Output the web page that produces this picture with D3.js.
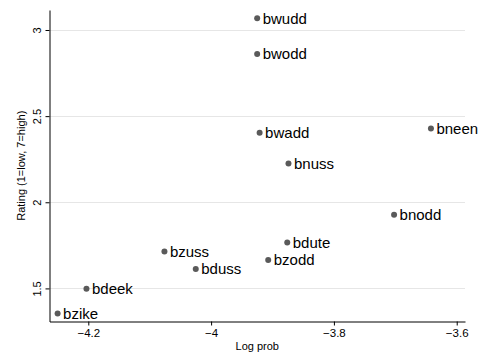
<!DOCTYPE html>
<html><head><meta charset="utf-8">
<script src="https://cdn.jsdelivr.net/npm/d3@7"></script>
<style>
body{margin:0;background:#fff;}
text{font-family:"Liberation Sans",Arial,Helvetica,sans-serif;}
</style></head>
<body><svg id="c" width="479" height="356"></svg>
<script>
const words = ["bwudd","bwodd","bwadd","bnuss","bneen","bnodd","bdute","bzodd","bzuss","bduss","bdeek","bzike"];
const logProb = [-3.925,-3.925,-3.921,-3.874,-3.642,-3.702,-3.876,-3.907,-4.076,-4.025,-4.203,-4.250];
const rating  = [3.068,2.860,2.403,2.225,2.428,1.928,1.767,1.665,1.715,1.612,1.498,1.355];
const xTicks = [-4.2,-4.0,-3.8,-3.6];
const yTicks = [1.5,2,2.5,3];

const svg = d3.select("#c");
const L=49.5, R=465, T=10, B=321.5;
const x = d3.scaleLinear().domain([-4.2632,-3.5865]).range([L,R]);
const y = d3.scaleLinear().domain([1.308,3.116]).range([B,T]);
const fmt = d => d<0 ? "\u2212"+Math.abs(d) : String(d);

// grid
svg.append("g").selectAll("line").data(yTicks).join("line")
  .attr("x1",L).attr("x2",R).attr("y1",d=>Math.round(y(d))+0.5).attr("y2",d=>Math.round(y(d))+0.5)
  .attr("stroke","#e6e6e6").attr("stroke-width",1);

// x axis
const xa = svg.append("g").attr("transform",`translate(0,${B})`)
  .call(d3.axisBottom(x).tickValues(xTicks).tickSize(4).tickSizeOuter(0).tickPadding(3).tickFormat(fmt));
xa.select(".domain").attr("stroke","#000");
xa.selectAll(".tick line").attr("stroke","#000");
xa.selectAll("text").attr("font-size",11.5).attr("fill","#000").attr("font-family","Liberation Sans, Arial, sans-serif");

// y axis
const ya = svg.append("g").attr("transform",`translate(${L},0)`)
  .call(d3.axisLeft(y).tickValues(yTicks).tickSize(4).tickSizeOuter(0).tickFormat(d=>String(d)));
ya.select(".domain").attr("stroke","#000");
ya.selectAll(".tick line").attr("stroke","#000");
ya.selectAll(".tick text").attr("font-size",11).attr("fill","#000").attr("font-family","Liberation Sans, Arial, sans-serif")
  .attr("x",null).attr("dy",null)
  .attr("transform","translate(-9,0) rotate(-90)")
  .attr("text-anchor","middle").attr("dominant-baseline","auto").attr("y",0);

// titles
svg.append("text").attr("x",(L+R)/2).attr("y",350).attr("text-anchor","middle")
  .attr("font-size",11).text("Log prob");
svg.append("text").attr("transform",`translate(25,${(T+B)/2}) rotate(-90)`).attr("text-anchor","middle")
  .attr("font-size",11).text("Rating (1=low, 7=high)");

// points
const idx = d3.range(words.length);
svg.append("g").selectAll("circle").data(idx).join("circle")
  .attr("cx",i=>x(logProb[i])).attr("cy",i=>y(rating[i])).attr("r",3).attr("fill","#5a5a5a");
svg.append("g").selectAll("text").data(idx).join("text")
  .attr("x",i=>x(logProb[i])+5.5).attr("y",i=>y(rating[i])).attr("dy","0.35em")
  .attr("font-size",15).attr("fill","#000").text(i=>words[i]);
</script></body></html>
